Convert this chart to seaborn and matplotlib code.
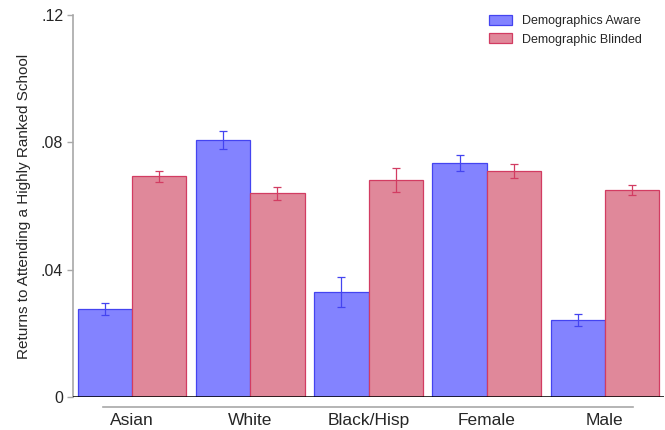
import pandas as pd
import matplotlib
matplotlib.use('Agg')
import matplotlib.pyplot as plt
import seaborn as sns

# data
groups = ['Asian', 'White', 'Black/Hisp', 'Female', 'Male']
series = ['Demographics Aware', 'Demographic Blinded']
aware = [0.0276, 0.0807, 0.0330, 0.0735, 0.0241]
aware_err = [0.0018, 0.0028, 0.0048, 0.0025, 0.0019]
blinded = [0.0693, 0.0640, 0.0681, 0.0709, 0.0651]
blinded_err = [0.0018, 0.0021, 0.0038, 0.0022, 0.0016]

yticks = [0, 0.04, 0.08, 0.12]
ytick_labels = ['0', '.04', '.08', '.12']

fills = ['#8383FF', '#E0889A']
edges = ['#4444F0', '#D23C62']

df = pd.DataFrame({
    'group': groups * 2,
    'model': [series[0]] * 5 + [series[1]] * 5,
    'value': aware + blinded,
})
errs = [aware_err, blinded_err]

sns.set_style('white')
plt.rcParams['font.family'] = ['Liberation Sans', 'DejaVu Sans']

fig = plt.figure(figsize=(6.65, 4.3), dpi=100)
ax = fig.add_axes([73 / 665, 1 - 397 / 430, 591 / 665, 382 / 430])

sns.barplot(data=df, x='group', y='value', hue='model', order=groups,
            hue_order=series, palette=fills, width=0.92, errorbar=None,
            saturation=1, legend=False, ax=ax)

bar_conts = list(ax.containers)
for cont, ec, err in zip(bar_conts, edges, errs):
    xs = []
    ys = []
    for bar in cont:
        bar.set_edgecolor(ec)
        bar.set_linewidth(0.9)
        xs.append(bar.get_x() + bar.get_width() / 2)
        ys.append(bar.get_height())
    ax.errorbar(xs, ys, yerr=err, fmt='none', ecolor=ec, elinewidth=0.9,
                capsize=2.6, capthick=0.9, zorder=5)

ax.axhline(0, color='black', lw=1.1, zorder=6)

ax.set_xlim(-0.5, 4.5)
ax.set_ylim(0, 0.12)
ax.set_yticks(yticks)
ax.set_yticklabels(ytick_labels)
ax.set_xlabel('')
ax.set_ylabel('Returns to Attending a Highly Ranked School', fontsize=11,
              labelpad=7)

for s in ['top', 'right']:
    ax.spines[s].set_visible(False)
ax.spines['left'].set_color('#A8A8A8')
ax.spines['left'].set_linewidth(1.2)
ax.spines['bottom'].set_color('#A8A8A8')
ax.spines['bottom'].set_linewidth(1.2)
ax.spines['bottom'].set_position(('outward', 7.5))
ax.spines['bottom'].set_bounds(-0.25, 4.24)

ax.tick_params(axis='y', length=4, width=1, color='#A8A8A8', pad=3,
               labelsize=11.5, left=True)
ax.tick_params(axis='x', length=0, pad=4, labelsize=12.5)

ax.legend([c.patches[0] for c in bar_conts], series, loc='upper left',
          bbox_to_anchor=(489 / 665, 1 - 15 / 430),
          bbox_transform=fig.transFigure, frameon=False, fontsize=9,
          handlelength=1.85, handleheight=0.8, handletextpad=0.8,
          labelspacing=0.5, borderpad=0, borderaxespad=0)

plt.savefig('out.png', dpi=100)
